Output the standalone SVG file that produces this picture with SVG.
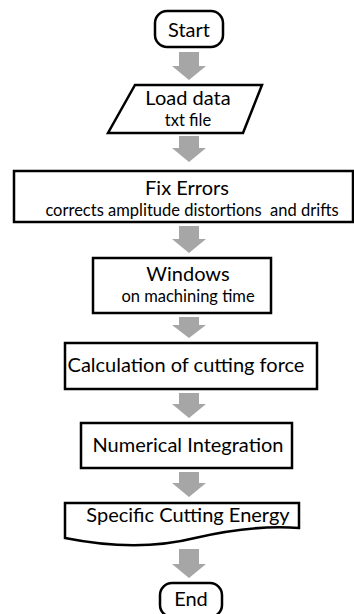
<svg xmlns="http://www.w3.org/2000/svg" width="354" height="614" viewBox="0 0 354 614">
<style>
.box{fill:#fff;stroke:#000;stroke-width:2.5;stroke-linejoin:miter}
.arr{fill:#a6a6a6}
.t{font-family:Lato,"Open Sans","Liberation Sans",sans-serif;fill:#000;text-anchor:middle}
.big{font-size:20px}
.small{font-size:16.5px}
</style>
<g id="connectors">
<polygon class="arr" points="179,52 199,52 199,66 206,66 189,80 172,66 179,66"/>
<polygon class="arr" points="179,136 199,136 199,148 206,148 189,162 172,148 179,148"/>
<polygon class="arr" points="179,226 199,226 199,239 206,239 189,253 172,239 179,239"/>
<polygon class="arr" points="179,317 199,317 199,325 206,325 189,338 172,325 179,325"/>
<polygon class="arr" points="179,393 199,393 199,404 206,404 189,418 172,404 179,404"/>
<polygon class="arr" points="179,472 199,472 199,483 206,483 189,497 172,483 179,483"/>
<polygon class="arr" points="179,549 199,549 199,564 206,564 189,578 172,564 179,564"/>
</g>
<g id="start">
<rect class="box" x="155" y="11" width="68" height="36" rx="12"/>
<text class="t big" x="189" y="37">Start</text>
</g>
<g id="load">
<polygon class="box" points="135,85 262,85 243,133 108,133"/>
<text class="t big" x="188" y="105">Load data</text>
<text class="t small" x="188" y="126">txt file</text>
</g>
<g id="fix">
<rect class="box" x="14" y="171" width="339" height="51"/>
<text class="t big" x="187" y="195">Fix Errors</text>
<text class="t small" x="192" y="216" xml:space="preserve">corrects amplitude distortions  and drifts</text>
</g>
<g id="windows">
<rect class="box" x="93" y="258" width="178" height="55"/>
<text class="t big" x="188" y="281">Windows</text>
<text class="t small" x="188" y="302">on machining time</text>
</g>
<g id="calc">
<rect class="box" x="65" y="343" width="252" height="46"/>
<text class="t big" x="186" y="372">Calculation of cutting force</text>
</g>
<g id="numint">
<rect class="box" x="81" y="423" width="211" height="45"/>
<text class="t big" x="188" y="452">Numerical Integration</text>
</g>
<g id="sce">
<path class="box" d="M65,503 H299 V528 C 260,525 225,531 195,538 C 155,548 110,547 65,538 Z"/>
<text class="t big" x="188" y="522">Specific Cutting Energy</text>
</g>
<g id="end">
<rect class="box" x="160" y="583" width="62" height="34" rx="12"/>
<text class="t big" x="191" y="606">End</text>
</g>
</svg>
